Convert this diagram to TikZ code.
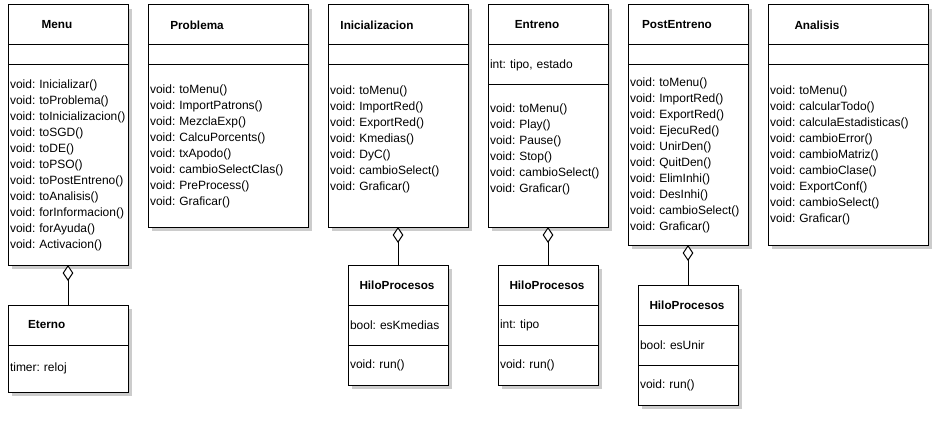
\documentclass[tikz,border=0pt]{standalone}
\usepackage{fontspec}
\setmainfont{Liberation Sans}
\usetikzlibrary{positioning, shadows, arrows.meta}

\begin{document}
\begin{tikzpicture}[x=0.75pt, y=-0.75pt,
        node distance=15pt,
        % every node/.style={font=\small},
        cpart/.style={draw=black, fill=white, line width=0.75pt, outer sep=0pt,
            inner xsep=1.5pt, inner ysep=0pt, align=left,
            font=\fontsize{9}{12}\selectfont,
            execute at begin node={\frenchspacing\hyphenpenalty=10000\relax},
            drop shadow={shadow xshift=3pt, shadow yshift=-3pt, fill=black!20, opacity=1}},
        chead/.style={minimum height=30pt},
        w100/.style={text width=72pt},
        w120/.style={text width=87pt},
        w140/.style={text width=102pt},
        w160/.style={text width=117pt},
        cname/.style={font=\fontsize{8.8}{11}\selectfont\bfseries, inner sep=0pt},
        aggr/.style={-{Diamond[fill=white, length=12pt, width=8pt]}, draw=black, line width=0.75pt},]

        \useasboundingbox (0,0) rectangle (935,435);

        % Menu + Eterno
        \node[cpart, chead, w120, anchor=north west] (menu) at (8,5) {};
        \node[cname] (menu-n) at ([xshift=36.75pt]menu.west) {Menu};
        \node[cpart, w120, minimum height=15pt] (menu-a) [below=0pt of menu] {};
        \node[cpart, w120, minimum height=150pt] (menu-o) [below=0pt of menu-a] {void: Inicializar()\\void: toProblema()\\void: toInicializacion()\\void: toSGD()\\void: toDE()\\void: toPSO()\\void: toPostEntreno()\\void: toAnalisis()\\void: forInformacion()\\void: forAyuda()\\void: Activacion()};

        \node[cpart, chead, w120] (eterno) [below=30pt of menu-o] {};
        \node[cname] (eterno-n) at ([xshift=29pt]eterno.west) {Eterno};
        \node[cpart, w120, minimum height=35.25pt] (eterno-a) [below=0pt of eterno] {timer: reloj};

        % Problema
        \node[cpart, chead, w160] (problema) [right=15pt of menu] {};
        \node[cname] (problema-n) at ([xshift=36.75pt]problema.west) {Problema};
        \node[cpart, w160, minimum height=15pt] (problema-a) [below=0pt of problema] {};
        \node[cpart, w160, minimum height=121.5pt] (problema-o) [below=0pt of problema-a] {void: toMenu()\\void: ImportPatrons()\\void: MezclaExp()\\void: CalcuPorcents()\\void: txApodo()\\void: cambioSelectClas()\\void: PreProcess()\\void: Graficar()};

        % Inicializacion + HiloProcesos
        \node[cpart, chead, w140] (inic) [right=15pt of problema] {};
        \node[cname] (inic-n) at ([xshift=36.75pt]inic.west) {Inicializacion};
        \node[cpart, w140, minimum height=15pt] (inic-a) [below=0pt of inic] {};
        \node[cpart, w140, minimum height=121.5pt] (inic-o) [below=0pt of inic-a] {void: toMenu()\\void: ImportRed()\\void: ExportRed()\\void: Kmedias()\\void: DyC()\\void: cambioSelect()\\void: Graficar()\\\mbox{}};

        \node[cpart, chead, w100] (hilo1) [below=28.5pt of inic-o] {};
        \node[cname] (hilo1-n) at ([xshift=36.75pt]hilo1.west) {HiloProcesos};
        \node[cpart, w100, minimum height=30pt] (hilo1-a) [below=0pt of hilo1] {bool: esKmedias};
        \node[cpart, w100, minimum height=30pt] (hilo1-o) [below=0pt of hilo1-a] {void: run()};

        % Entreno + HiloProcesos
        \node[cpart, chead, w120] (entreno) [right=15pt of inic] {};
        \node[cname] (entreno-n) at ([xshift=36.75pt]entreno.west) {Entreno};
        \node[cpart, w120, minimum height=30pt] (entreno-a) [below=0pt of entreno] {int: tipo, estado};
        \node[cpart, w120, minimum height=106.5pt] (entreno-o) [below=0pt of entreno-a] {void: toMenu()\\void: Play()\\void: Pause()\\void: Stop()\\void: cambioSelect()\\void: Graficar()\\\mbox{}};

        \node[cpart, chead, w100] (hilo2) [below=28.5pt of entreno-o] {};
        \node[cname] (hilo2-n) at ([xshift=36.75pt]hilo2.west) {HiloProcesos};
        \node[cpart, w100, minimum height=30pt] (hilo2-a) [below=0pt of hilo2] {int: tipo};
        \node[cpart, w100, minimum height=30pt] (hilo2-o) [below=0pt of hilo2-a] {void: run()};

        % PostEntreno + HiloProcesos
        \node[cpart, chead, w120] (post) [right=15pt of entreno] {};
        \node[cname] (post-n) at ([xshift=36.75pt]post.west) {PostEntreno};
        \node[cpart, w120, minimum height=15pt] (post-a) [below=0pt of post] {};
        \node[cpart, w120, minimum height=135pt] (post-o) [below=0pt of post-a] {void: toMenu()\\void: ImportRed()\\void: ExportRed()\\void: EjecuRed()\\void: UnirDen()\\void: QuitDen()\\void: ElimInhi()\\void: DesInhi()\\void: cambioSelect()\\void: Graficar()};

        \node[cpart, chead, w100] (hilo3) [below=30pt of post-o] {};
        \node[cname] (hilo3-n) at ([xshift=36.75pt]hilo3.west) {HiloProcesos};
        \node[cpart, w100, minimum height=30pt] (hilo3-a) [below=0pt of hilo3] {bool: esUnir};
        \node[cpart, w100, minimum height=30pt] (hilo3-o) [below=0pt of hilo3-a] {void: run()};

        % Analisis
        \node[cpart, chead, w160] (analisis) [right=15pt of post] {};
        \node[cname] (analisis-n) at ([xshift=36.75pt]analisis.west) {Analisis};
        \node[cpart, w160, minimum height=15pt] (analisis-a) [below=0pt of analisis] {};
        \node[cpart, w160, minimum height=135pt] (analisis-o) [below=0pt of analisis-a] {void: toMenu()\\void: calcularTodo()\\void: calculaEstadisticas()\\void: cambioError()\\void: cambioMatriz()\\void: cambioClase()\\void: ExportConf()\\void: cambioSelect()\\void: Graficar()};

        % aggregations
        \draw[aggr] (eterno) -- (menu-o);
        \draw[aggr] (hilo1) -- (inic-o);
        \draw[aggr] (hilo2) -- (entreno-o);
        \draw[aggr] (hilo3) -- (post-o);

    \end{tikzpicture}
\end{document}
